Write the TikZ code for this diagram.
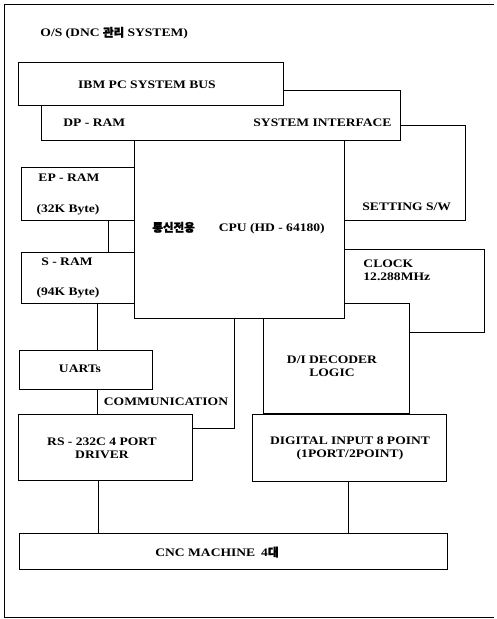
\documentclass[tikz,border=0pt]{standalone}
\usepackage{fontspec}
\setmainfont{Liberation Serif}[FakeStretch=1.18]
\newfontfamily\kor{Noto Sans CJK KR}[FakeBold=2]
\usetikzlibrary{calc}

\begin{document}
\begin{tikzpicture}[x=1pt, y=-1pt, line width=0.9pt,
    blk/.style={draw, fill=white, inner sep=0pt, minimum width=#1},
    txt/.style={inner sep=0pt, font=\fontsize{11.5}{13}\selectfont\bfseries, align=center}]
        \useasboundingbox (0,0) rectangle (496,619);
        \coordinate (lan) at (97,0);
        \coordinate (com) at (234,428);
        \coordinate (cncl) at (98,0);
        \coordinate (cncr) at (348,0);
        \coordinate (lnk) at (108,0);
        \draw (494,4) -| (4.5,617) -- (494,617);
        \node[txt, anchor=west] (os) at (40,33) {O/S (DNC {\kor 관리} SYSTEM)};
        \node[blk=135pt, minimum height=95pt] (setting) at (397.5,172.5) {};
        \node[blk=149pt, minimum height=83pt] (clock) at (409.5,290.5) {};
        \node[blk=359pt, minimum height=50pt] (sysif) at (220.5,115) {};
        \node[blk=265pt, minimum height=43pt] (ibm) at (150.5,83.5) {};
        \node[blk=146pt, minimum height=110pt] (decoder) at (336,358) {};
        \node[blk=210pt, minimum height=178pt] (cpu) at (239,229) {};
        \node[blk=113pt, minimum height=53pt] (eprom) at (77.5,193.5) {};
        \node[blk=113pt, minimum height=51pt] (sram) at (77.5,277.5) {};
        \node[blk=133pt, minimum height=39pt] (uarts) at (85.5,369.5) {};
        \node[blk=174pt, minimum height=66pt] (rs) at (105,447) {};
        \node[blk=194pt, minimum height=67pt] (di) at (349,447.5) {};
        \node[blk=428pt, minimum height=36pt] (cnc) at (233,551) {};
        \draw (eprom.south -| lnk) -- (sram.north -| lnk);
        \draw (sram.south -| lan) -- (uarts.north -| lan);
        \draw (uarts.south -| lan) -- (rs.north -| lan);
        \draw (cpu.south -| com) |- (rs.east |- com);
        \draw (rs.south -| cncl) -- (cnc.north -| cncl);
        \draw (di.south -| cncr) -- (cnc.north -| cncr);
        \node[txt] (ibmt) at (147,85) {IBM PC SYSTEM BUS};
        \node[txt, anchor=west] (dpram) at (63,123) {DP - RAM};
        \node[txt, anchor=east] (sysift) at (392,123) {SYSTEM INTERFACE};
        \node[txt, anchor=west] (settingt) at (362,207) {SETTING S/W};
        \node[txt] (epromt) at (69,178) {EP - RAM};
        \node[txt] (epromk) at (68,210) {(32K Byte)};
        \node[txt] (sramt) at (67,262) {S - RAM};
        \node[txt] (sramk) at (68,293) {(94K Byte)};
        \node[txt, anchor=west] (cput) at (152,228) {{\kor 통신전용}\hspace{24pt}CPU (HD - 64180)};
        \node[txt, anchor=west, align=left] (clockt) at (363,270.5) {CLOCK\\12.288MHz};
        \node[txt] (decodert) at (332,366.5) {D/I DECODER\\LOGIC};
        \node[txt] (uartst) at (80,369) {UARTs};
        \node[txt] (comt) at (166,402) {COMMUNICATION};
        \node[txt] (rst) at (102,448.5) {RS - 232C 4 PORT\\DRIVER};
        \node[txt] (dit) at (350,448.5) {DIGITAL INPUT 8 POINT\\(1PORT/2POINT)};
        \node[txt] (cnct) at (217,552) {CNC MACHINE\hspace{6pt}4{\kor 대}};
    \end{tikzpicture}
\end{document}
